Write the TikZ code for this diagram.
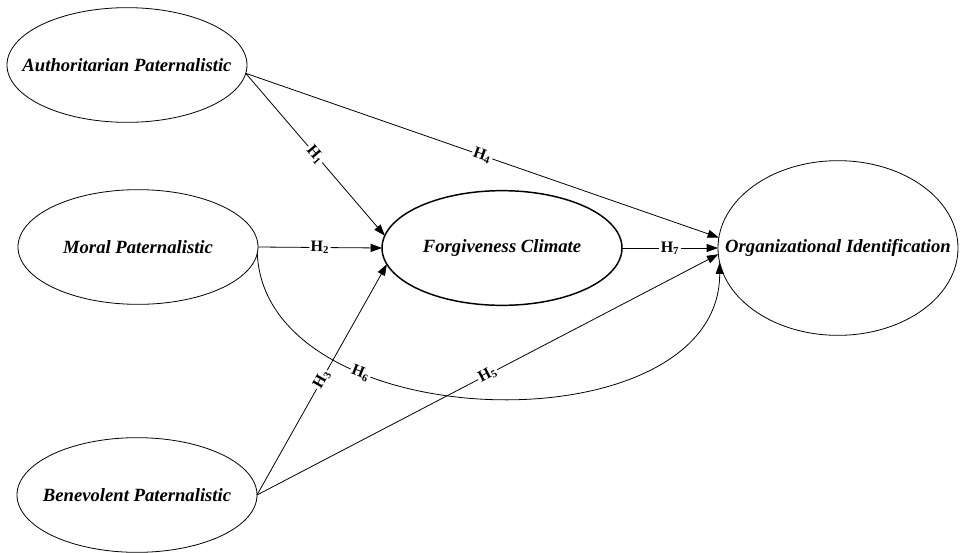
\documentclass[tikz,border=0pt]{standalone}
\usepackage{fontspec}
\setmainfont{Liberation Serif}
\usetikzlibrary{shapes.geometric, arrows.meta, positioning}

\begin{document}
\begin{tikzpicture}[
    x=0.75pt, y=-0.75pt,
    construct/.style={ellipse, draw, line width=0.6pt, minimum width=180pt,
                minimum height=86pt, inner sep=0pt, outer sep=0pt,
                label={[font=\fontsize{14}{16}\selectfont\bfseries\itshape]center:#1}},
    path/.style={draw, line width=0.6pt, -{Triangle[length=8.5pt, width=6pt]}},
    hyp/.style={sloped, fill=white, inner sep=1pt, font=\fontsize{12}{14}\selectfont\bfseries}
]
    \useasboundingbox (0,0) rectangle (960,553);
    \node[construct=Authoritarian Paternalistic] (auth) at (127,65) {};
    \node[construct=Moral Paternalistic] (moral) at (138,247) {};
    \node[construct=Benevolent Paternalistic] (benev) at (137,495) {};
    \node[construct=Forgiveness Climate, line width=1.1pt] (forg) at (502,248) {};
    \node[construct=Organizational Identification, minimum height=131pt] (orgid) at (838,248) {};

    \draw[path] (auth.-4) -- node[hyp] {H\textsubscript{1}} (forg.174);
    \draw[path] (moral.east) -- node[hyp] {H\textsubscript{2}} (forg.west);
    \draw[path] (benev.east) -- node[hyp] {H\textsubscript{3}} (forg.-172);
    \draw[path] (auth.-4) -- node[hyp] {H\textsubscript{4}} (orgid.175);
    \draw[path] (benev.east) -- node[hyp] {H\textsubscript{5}} (orgid.-177);
    \draw[path] (moral.-3) .. controls (265,440) and (720,450) .. node[hyp, pos=0.3] {H\textsubscript{6}} (orgid.-173);
    \draw[path] (forg.east) -- node[hyp] {H\textsubscript{7}} (orgid.west);
\end{tikzpicture}
\end{document}
